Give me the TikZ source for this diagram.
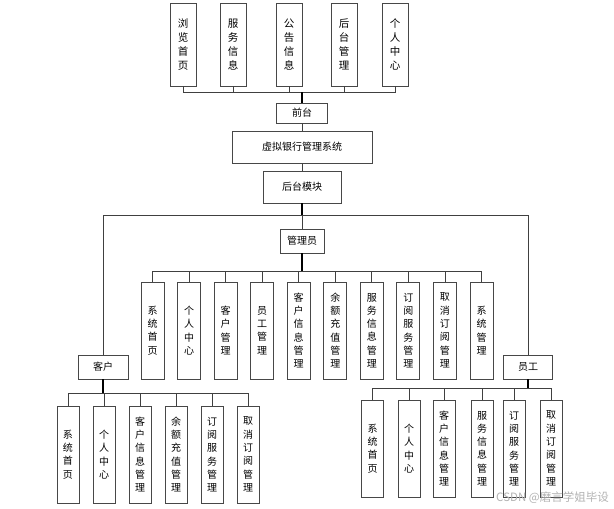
\documentclass[tikz,border=0pt]{standalone}
\usepackage{fontspec}
\setmainfont{Noto Sans CJK SC}
\begin{document}
\begin{tikzpicture}[x=1pt,y=-1pt,
  box/.style={draw=black!72, line width=0.9pt, fill=white, inner sep=0pt, align=center,
    font=\fontsize{10}{13.3}\selectfont},
  topbox/.style={box, minimum width=26pt, minimum height=83pt, font=\fontsize{10.5}{14}\selectfont},
  abox/.style={box, minimum width=23pt, minimum height=97pt},
  cbox/.style={box, minimum width=22pt, minimum height=97pt},
  conn/.style={draw=black!75, line width=0.8pt},
  stem/.style={draw=black, line width=1.2pt}]
\useasboundingbox (0,0) rectangle (614,509);
% top
\node[topbox] (t1) at (183,44.5) {浏\\览\\首\\页};
\node[topbox] (t2) at (233,44.5) {服\\务\\信\\息};
\node[topbox] (t3) at (289,44.5) {公\\告\\信\\息};
\node[topbox] (t4) at (344,44.5) {后\\台\\管\\理};
\node[topbox] (t5) at (395,44.5) {个\\人\\中\\心};
\node[box, minimum width=51pt, minimum height=20pt] (qt) at (302,113) {前台};
\node[box, minimum width=140pt, minimum height=32pt] (sys) at (302,147) {虚拟银行管理系统};
\node[box, minimum width=78pt, minimum height=32pt] (ht) at (302,187) {后台模块};
\coordinate (topbus) at (0,92);
\foreach \i in {1,...,5}{\draw[conn] (qt.north) |- (t\i.south |- topbus) -- (t\i.south);}
\draw[stem] (qt.north) -- (qt.north |- topbus);
\draw[conn] (qt.south) -- (sys.north);
\draw[conn] (sys.south) -- (ht.north);
% second level
\node[box, minimum width=44pt, minimum height=24pt] (adm) at (302,241) {管理员};
\node[box, minimum width=50pt, minimum height=24pt] (kh) at (103,367) {客户};
\node[box, minimum width=49pt, minimum height=24pt] (yg) at (528,367) {员工};
\coordinate (mainbus) at (0,215);
\draw[conn] (ht.south) |- (kh.north |- mainbus) -- (kh.north);
\draw[conn] (ht.south) |- (yg.north |- mainbus) -- (yg.north);
\draw[conn] (ht.south) -- (adm.north);
\draw[stem] (ht.south) -- (ht.south |- mainbus);
% admin children
\node[abox] (a1) at (152.5,330.5) {系\\统\\首\\页};
\node[abox] (a2) at (189.1,330.5) {个\\人\\中\\心};
\node[abox] (a3) at (225.6,330.5) {客\\户\\管\\理};
\node[abox] (a4) at (262.2,330.5) {员\\工\\管\\理};
\node[abox] (a5) at (298.7,330.5) {客\\户\\信\\息\\管\\理};
\node[abox] (a6) at (335.3,330.5) {余\\额\\充\\值\\管\\理};
\node[abox] (a7) at (371.8,330.5) {服\\务\\信\\息\\管\\理};
\node[abox] (a8) at (408.4,330.5) {订\\阅\\服\\务\\管\\理};
\node[abox] (a9) at (444.9,330.5) {取\\消\\订\\阅\\管\\理};
\node[abox] (a10) at (481.5,330.5) {系\\统\\管\\理};
\coordinate (abus) at (0,271);
\foreach \i in {1,...,10}{\draw[conn] (adm.south) |- (a\i.north |- abus) -- (a\i.north);}
\draw[stem] (adm.south) -- (adm.south |- abus);
% customer children
\node[cbox] (c1) at (68,454.5) {系\\统\\首\\页};
\node[cbox] (c2) at (104,454.5) {个\\人\\中\\心};
\node[cbox] (c3) at (140,454.5) {客\\户\\信\\息\\管\\理};
\node[cbox] (c4) at (176,454.5) {余\\额\\充\\值\\管\\理};
\node[cbox] (c5) at (212,454.5) {订\\阅\\服\\务\\管\\理};
\node[cbox] (c6) at (248,454.5) {取\\消\\订\\阅\\管\\理};
\coordinate (cbus) at (0,393);
\foreach \i in {1,...,6}{\draw[conn] (kh.south) |- (c\i.north |- cbus) -- (c\i.north);}
\draw[stem] (kh.south) -- (kh.south |- cbus);
% employee children
\node[cbox] (e1) at (372.5,448.5) {系\\统\\首\\页};
\node[cbox] (e2) at (409,448.5) {个\\人\\中\\心};
\node[cbox] (e3) at (444,448.5) {客\\户\\信\\息\\管\\理};
\node[cbox] (e4) at (482,448.5) {服\\务\\信\\息\\管\\理};
\node[cbox] (e5) at (514,448.5) {订\\阅\\服\\务\\管\\理};
\node[cbox] (e6) at (551,448.5) {取\\消\\订\\阅\\管\\理};
\coordinate (ebus) at (0,388);
\foreach \i in {1,...,6}{\draw[conn] (yg.south) |- (e\i.north |- ebus) -- (e\i.north);}
\draw[stem] (yg.south) -- (yg.south |- ebus);
% watermark
\node[text=black!30, font=\fontsize{11.5}{12}\selectfont, inner sep=0pt, anchor=east] (wm) at (609,498) {CSDN @磨言学姐毕设};
\end{tikzpicture}
\end{document}
